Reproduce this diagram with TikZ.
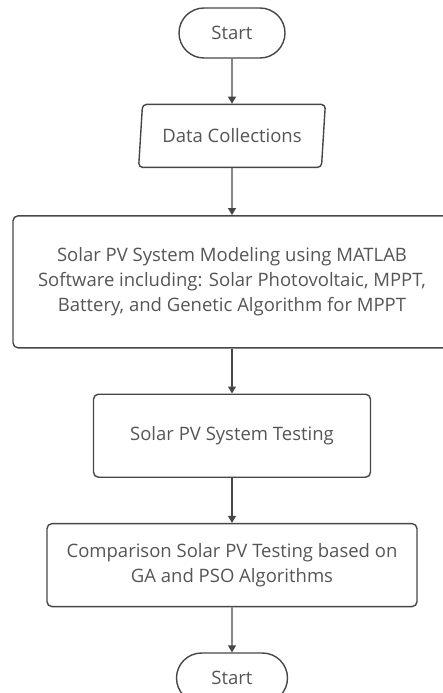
\documentclass[tikz,border=0pt]{standalone}
\usepackage{fontspec}
\setmainfont{Open Sans}
\usepackage{tikz}
\usetikzlibrary{arrows.meta,positioning,shapes.geometric,shapes.misc}
\usepackage{xcolor}
\definecolor{edgegray}{RGB}{70,70,70}
\definecolor{textgray}{RGB}{85,85,85}

\begin{document}
\begin{tikzpicture}[
  x=1pt, y=-1pt,
  term/.style={draw=edgegray, line width=1.4pt, rounded rectangle, minimum width=106pt,
    minimum height=50pt, inner sep=0pt},
  io/.style={draw=edgegray, line width=1.4pt, trapezium, trapezium left angle=78,
    trapezium right angle=102, trapezium stretches=true, rounded corners=4pt,
    minimum width=187pt, minimum height=63pt, inner sep=0pt},
  proc/.style={draw=edgegray, line width=1.4pt, rectangle, rounded corners=5pt,
    align=center, inner sep=0pt},
  flow/.style={->, line width=1.2pt, edgegray},
  >={Triangle[length=7pt,width=8pt]},
  node distance=45pt,
  font=\fontsize{18.5}{25}\selectfont, text=textgray]
\useasboundingbox (0,0) rectangle (443,693);
% start and input
\node[term] (start) at (232,33) {Start};
\node[io, below=of start] (data) {Data Collections};
% modelling and testing
\node[proc, minimum width=438pt, minimum height=132pt, below=47pt of data] (model)
  {Solar PV System Modeling using MATLAB\\
   Software including: Solar Photovoltaic, MPPT,\\
   Battery, and Genetic Algorithm for MPPT};
\node[proc, minimum width=277pt, minimum height=83pt, below=of model] (test)
  {Solar PV System Testing};
\node[proc, minimum width=370pt, minimum height=83pt, below=of test] (comp)
  {Comparison Solar PV Testing based on\\ GA and PSO Algorithms};
% end
\node[term, minimum width=111pt, below=of comp] (stop) {Start};
\draw[flow] (start) -- (data);
\draw[flow] (data) -- (model);
\draw[flow] (model) -- (test);
\draw[flow] (test) -- (comp);
\draw[flow] (comp) -- (stop);
\end{tikzpicture}
\end{document}
